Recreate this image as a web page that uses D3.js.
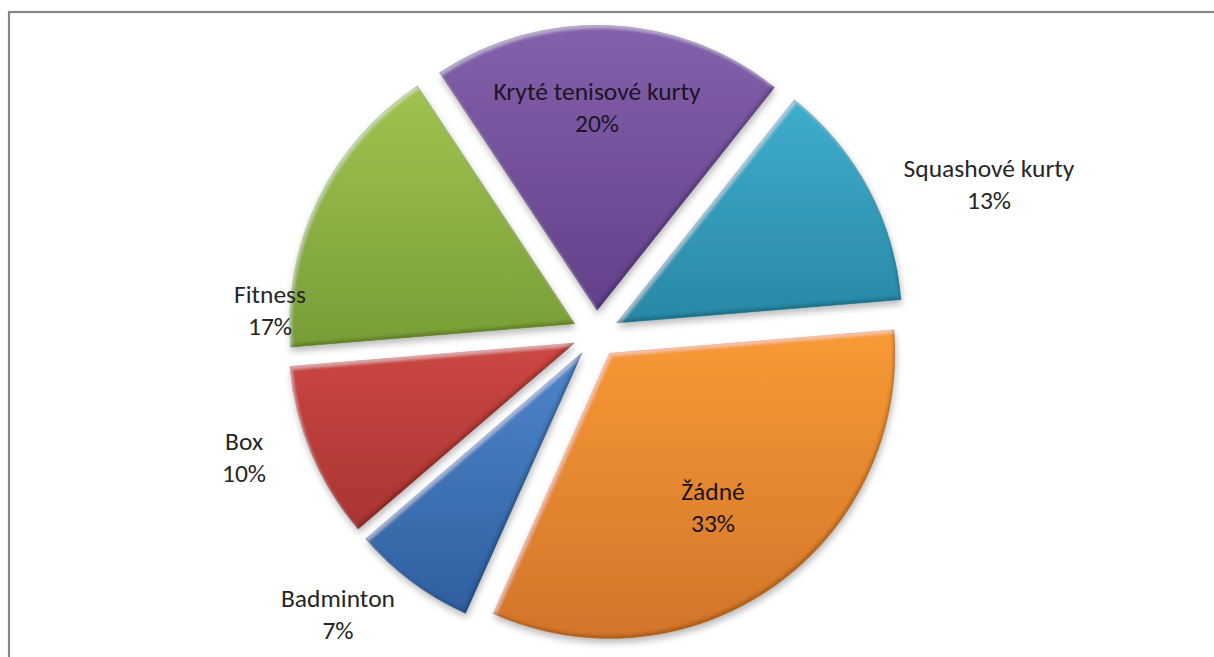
<!DOCTYPE html>
<html>
<head>
<meta charset="utf-8">
<script src="https://cdn.jsdelivr.net/npm/d3@7"></script>
<style>
  html, body { margin: 0; padding: 0; background: #ffffff; }
  svg { display: block; }
</style>
</head>
<body>
<svg id="chart" width="1214" height="657"></svg>
<script>
// Sport facilities people would use (share of answers, %)
const categories = ["Kryté tenisové kurty", "Squashové kurty", "Žádné", "Badminton", "Box", "Fitness"];
const shares = [20, 13, 33, 7, 10, 17];

// Slice palette: lighter top tone and darker bottom tone of each slice
const topColors    = ["#8461ab", "#3eadcc", "#f89a35", "#4f86cb", "#cc4743", "#a0c34f"];
const bottomColors = ["#63408a", "#2888a6", "#d2742a", "#2f5e9f", "#a83533", "#789d37"];

// Labels drawn inside their slice; the rest sit outside
const insideLabels = new Set(["Kryté tenisové kurty", "Žádné"]);
// first-line baseline anchor of each data label
const labelAt = {
  "Kryté tenisové kurty": [597, 100],
  "Squashové kurty": [989, 177],
  "Žádné": [713, 500],
  "Fitness": [270, 303],
  "Box": [244, 450],
  "Badminton": [338, 607]
};

const W = 1214, H = 657;
const cx = 596, cy = 334;
const R = 285;            // pie radius
const explode = 23.7;     // distance each slice is pulled out
const startAngle = -33.5 * Math.PI / 180;
const lineGap = 31.5;

const svg = d3.select("#chart");
const defs = svg.append("defs");

// chart frame
svg.append("rect")
  .attr("x", 9).attr("y", 12)
  .attr("width", W + 40).attr("height", H + 40)
  .attr("fill", "#ffffff")
  .attr("stroke", "#878787")
  .attr("stroke-width", 2.2);

// bevel + soft shadow filter for the slices
const f = defs.append("filter").attr("id", "bevel")
  .attr("x", "-10%").attr("y", "-10%").attr("width", "120%").attr("height", "125%");
f.append("feOffset").attr("in", "SourceAlpha").attr("dx", 2).attr("dy", 3).attr("result", "offA");
f.append("feGaussianBlur").attr("in", "offA").attr("stdDeviation", 1.6).attr("result", "offAB");
f.append("feComposite").attr("in", "SourceAlpha").attr("in2", "offAB").attr("operator", "out").attr("result", "rimHi");
f.append("feFlood").attr("flood-color", "#ffffff").attr("flood-opacity", 0.35).attr("result", "white");
f.append("feComposite").attr("in", "white").attr("in2", "rimHi").attr("operator", "in").attr("result", "hi");
f.append("feOffset").attr("in", "SourceAlpha").attr("dx", -2).attr("dy", -3).attr("result", "offB");
f.append("feGaussianBlur").attr("in", "offB").attr("stdDeviation", 1.6).attr("result", "offBB");
f.append("feComposite").attr("in", "SourceAlpha").attr("in2", "offBB").attr("operator", "out").attr("result", "rimLo");
f.append("feFlood").attr("flood-color", "#000000").attr("flood-opacity", 0.38).attr("result", "black");
f.append("feComposite").attr("in", "black").attr("in2", "rimLo").attr("operator", "in").attr("result", "lo");
f.append("feGaussianBlur").attr("in", "SourceAlpha").attr("stdDeviation", 3.5).attr("result", "shB");
f.append("feOffset").attr("in", "shB").attr("dx", 1).attr("dy", 4).attr("result", "shO");
f.append("feFlood").attr("flood-color", "#000000").attr("flood-opacity", 0.28).attr("result", "shC");
f.append("feComposite").attr("in", "shC").attr("in2", "shO").attr("operator", "in").attr("result", "shadow");
const merge = f.append("feMerge");
["shadow", "SourceGraphic", "hi", "lo"].forEach(n => merge.append("feMergeNode").attr("in", n));

// per-slice vertical gradients
categories.forEach((c, i) => {
  const g = defs.append("linearGradient").attr("id", "grad" + i)
    .attr("x1", 0).attr("y1", 0).attr("x2", 0).attr("y2", 1);
  g.append("stop").attr("offset", "0%").attr("stop-color", topColors[i]);
  g.append("stop").attr("offset", "100%").attr("stop-color", bottomColors[i]);
});

const data = categories.map((c, i) => ({ name: c, value: shares[i], idx: i }));

const pie = d3.pie()
  .sort(null)
  .value(d => d.value)
  .startAngle(startAngle)
  .endAngle(startAngle + 2 * Math.PI);

const arc = d3.arc().innerRadius(0).outerRadius(R);
const arcs = pie(data);

function offset(d) {
  const mid = (d.startAngle + d.endAngle) / 2;
  return [explode * Math.sin(mid), -explode * Math.cos(mid)];
}

const slices = svg.append("g").attr("transform", `translate(${cx},${cy})`);

slices.selectAll("path.slice")
  .data(arcs)
  .join("path")
  .attr("class", "slice")
  .attr("transform", d => { const o = offset(d); return `translate(${o[0]},${o[1]})`; })
  .attr("d", arc)
  .attr("fill", d => `url(#grad${d.data.idx})`)
  .attr("stroke", d => bottomColors[d.data.idx])
  .attr("stroke-width", 0.6)
  .attr("filter", "url(#bevel)");

// data labels: category name over percentage
const fmt = v => `${v}%`;
const labels = svg.append("g")
  .attr("font-family", "Carlito, Calibri, Lato, 'Open Sans', sans-serif")
  .attr("font-size", 25.5)
  .attr("text-anchor", "middle");

arcs.forEach(d => {
  const [x, y] = labelAt[d.data.name];
  const fill = insideLabels.has(d.data.name) ? "#1c1424" : "#262626";
  const t = labels.append("text").attr("x", x).attr("y", y).attr("fill", fill);
  t.append("tspan").attr("x", x).attr("y", y).text(d.data.name);
  t.append("tspan").attr("x", x).attr("y", y + lineGap).text(fmt(d.data.value));
});
</script>
</body>
</html>
